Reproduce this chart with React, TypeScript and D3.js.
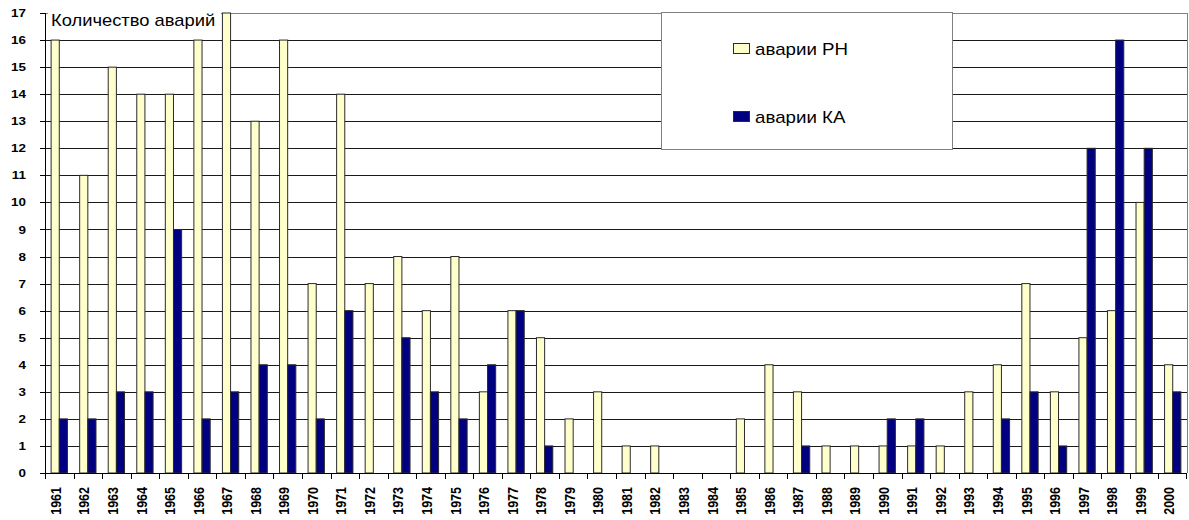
import React from "react";
import * as d3 from "d3";

const years: string[] = [
  "1961", "1962", "1963", "1964", "1965", "1966", "1967", "1968", "1969", "1970",
  "1971", "1972", "1973", "1974", "1975", "1976", "1977", "1978", "1979", "1980",
  "1981", "1982", "1983", "1984", "1985", "1986", "1987", "1988", "1989", "1990",
  "1991", "1992", "1993", "1994", "1995", "1996", "1997", "1998", "1999", "2000",
];

// Launch-vehicle failures per year
const rocketFailures: number[] = [
  16, 11, 15, 14, 14, 16, 17, 13, 16, 7,
  14, 7, 8, 6, 8, 3, 6, 5, 2, 3,
  1, 1, 0, 0, 2, 4, 3, 1, 1, 1,
  1, 1, 3, 4, 7, 3, 5, 6, 10, 4,
];

// Spacecraft failures per year
const spacecraftFailures: number[] = [
  2, 2, 3, 3, 9, 2, 3, 4, 4, 2,
  6, 0, 5, 3, 2, 4, 6, 1, 0, 0,
  0, 0, 0, 0, 0, 0, 1, 0, 0, 2,
  2, 0, 0, 2, 3, 1, 12, 16, 12, 3,
];

const yTicks: number[] = d3.range(0, 18);

const seriesNames: string[] = ["аварии РН", "аварии КА"];
const seriesColors: string[] = ["#FFFFCC", "#000080"];

const W = 1189;
const H = 520;
const left = 45;
const right = 1187;
const top = 13;
const bottom = 473;
// text is drawn slightly wide, as in the exported chart
const SX = 1.17;

export default function App() {
  const x = d3.scaleBand<string>().domain(years).range([left, right]);
  const inner = d3
    .scaleBand<number>()
    .domain([0, 1])
    .range([0, x.bandwidth()])
    .paddingInner(0)
    .paddingOuter(0.75);
  const y = d3.scaleLinear().domain([0, 17]).range([bottom, top]);

  const series = [rocketFailures, spacecraftFailures];
  const fontFamily = "Arial, 'Liberation Sans', sans-serif";

  return (
    <svg
      width={W}
      height={H}
      style={{ position: "absolute", left: 0, top: 0, background: "#fff" }}
      fontFamily={fontFamily}
    >
      <rect x={0} y={0} width={W} height={H} fill="#fff" />

      {/* horizontal gridlines */}
      {yTicks.slice(1).map((t) => (
        <line
          key={"g" + t}
          x1={left}
          x2={right}
          y1={Math.round(y(t)) + 0.5}
          y2={Math.round(y(t)) + 0.5}
          stroke={t === 17 ? "#808080" : "#1a1a1a"}
          strokeWidth={1}
        />
      ))}
      <line x1={right + 0.5} x2={right + 0.5} y1={top} y2={bottom} stroke="#808080" />

      {/* axis title box */}
      <rect x={48} y={11} width={173} height={28} fill="#fff" />
      <text x={50} y={26} fontSize={16} transform={`translate(51,0) scale(${SX * 0.98},1) translate(-50,0)`}>
        Количество аварий
      </text>

      {/* bars */}
      {series.map((vals, si) =>
        vals.map((v, i) =>
          v > 0 ? (
            <rect
              key={si + "-" + i}
              x={(x(years[i]) as number) + (inner(si) as number)}
              y={y(v)}
              width={inner.bandwidth()}
              height={y(0) - y(v)}
              fill={seriesColors[si]}
              stroke="#2b2b2b"
              strokeWidth={1}
            />
          ) : null
        )
      )}

      {/* axes */}
      <line x1={left + 0.5} x2={left + 0.5} y1={top} y2={bottom + 0.5} stroke="#000" />
      <line x1={left - 5} x2={right} y1={bottom + 0.5} y2={bottom + 0.5} stroke="#000" />
      {yTicks.map((t) => (
        <g key={"yt" + t}>
          <line
            x1={left - 5}
            x2={left}
            y1={Math.round(y(t)) + 0.5}
            y2={Math.round(y(t)) + 0.5}
            stroke="#000"
          />
          <text
            transform={`translate(26,${y(t)}) scale(${SX},1)`}
            dy="0.35em"
            textAnchor="end"
            fontSize={11.5}
            fontWeight="bold"
          >
            {t}
          </text>
        </g>
      ))}
      {years.map((yr) => (
        <line
          key={"xt" + yr}
          x1={Math.round(x(yr) as number) + 0.5}
          x2={Math.round(x(yr) as number) + 0.5}
          y1={bottom}
          y2={bottom + 6}
          stroke="#000"
        />
      ))}
      <line x1={right - 0.5} x2={right - 0.5} y1={bottom} y2={bottom + 6} stroke="#000" />
      {years.map((yr) => {
        const cx = (x(yr) as number) + x.bandwidth() / 2 - 3.5;
        return (
          <text
            key={"xl" + yr}
            transform={`translate(${cx},${487}) scale(${SX},1) rotate(-90)`}
            textAnchor="end"
            dy="0.35em"
            fontSize={12.5}
            fontWeight="bold"
          >
            {yr}
          </text>
        );
      })}

      {/* legend */}
      <rect x={661.5} y={12.5} width={291} height={137} fill="#fff" stroke="#808080" />
      {seriesNames.map((name, i) => {
        const ly = 49 + i * 68;
        return (
          <g key={"lg" + name}>
            <rect
              x={733.5}
              y={ly - 5.5}
              width={16}
              height={10}
              fill={seriesColors[i]}
              stroke="#2b2b2b"
            />
            <text
              transform={`translate(755,${ly}) scale(${SX},1)`}
              dy="0.35em"
              fontSize={16}
            >
              {name}
            </text>
          </g>
        );
      })}
    </svg>
  );
}
